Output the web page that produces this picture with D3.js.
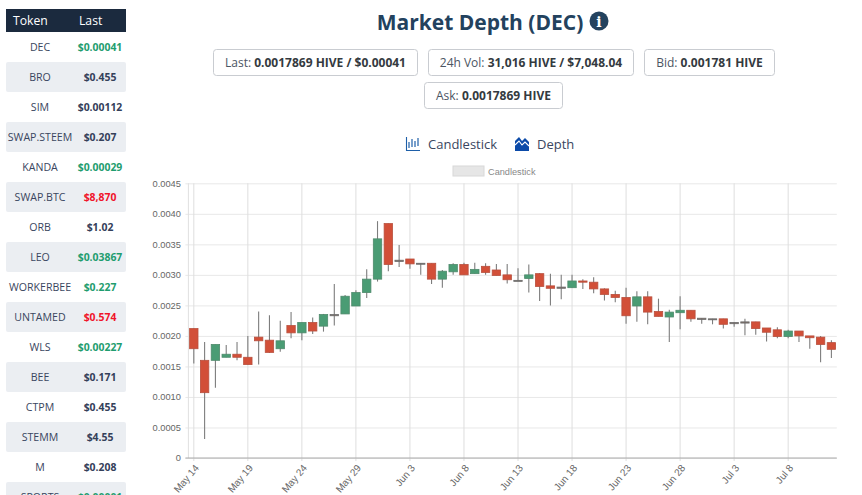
<!DOCTYPE html>
<html><head><meta charset="utf-8">
<script src="https://cdn.jsdelivr.net/npm/d3@7/dist/d3.min.js"></script>
<style>
html,body{margin:0;padding:0;background:#fff;overflow:hidden;width:862px;height:495px}
svg{display:block}
</style></head><body>
<svg id="c" width="862" height="495"></svg>
<script>
const tokens=["DEC","BRO","SIM","SWAP.STEEM","KANDA","SWAP.BTC","ORB","LEO","WORKERBEE","UNTAMED","WLS","BEE","CTPM","STEMM","M","SPORTS"];
const lasts=["$0.00041","$0.455","$0.00112","$0.207","$0.00029","$8,870","$1.02","$0.03867","$0.227","$0.574","$0.00227","$0.171","$0.455","$4.55","$0.208","$0.00001"];
const lastTrend=["up","flat","flat","flat","up","down","flat","up","up","down","up","flat","flat","flat","flat","up"];
const monthDays=[["May",14,31],["Jun",1,30],["Jul",1,12]];
const tickEvery=5;
const bodyTop=[.00212,.0016,.00186,.0017,.0017,.00165,.00198,.00193,.00192,.00217,.00222,.00222,.00235,.00235,.00265,.00271,.00293,.00359,.00384,.00324,
.00326,.00319,.00319,.00306,.00317,.00317,.00309,.00314,.00308,.003,.00291,.003,.00302,.00282,.0028,.0029,.0029,.00288,.00277,.00268,
.00263,.00264,.00264,.0024,.00239,.00242,.00242,.00229,.00228,.00228,.00222,.00223,.00223,.00213,.0021,.00208,.00208,.002,.00198,.00189];
const bodyBottom=[.00179,.00107,.0016,.00165,.00165,.00153,.00192,.00173,.00179,.00205,.00205,.00208,.00216,.00233,.00236,.00249,.00271,.00293,.00317,.00322,
.00318,.00318,.00293,.00293,.00305,.003,.00302,.00304,.00299,.00292,.0029,.00294,.00281,.00278,.00278,.00279,.00288,.00277,.00268,.00263,
.00233,.00249,.00239,.00232,.00231,.00238,.00228,.00227,.00227,.00219,.0022,.00221,.00212,.00206,.00199,.00199,.002,.00197,.00186,.00178];
const highs=[.00212,.0019,.00186,.00185,.0019,.002,.0024,.00234,.00225,.00239,.00222,.0023,.00236,.00285,.00267,.00275,.00309,.00388,.00384,.00349,
.00326,.00319,.00319,.00308,.00319,.0032,.0032,.00319,.00318,.00318,.00311,.00317,.00303,.00302,.003,.003,.00293,.00296,.00278,.00274,
.00279,.00273,.00273,.00261,.00243,.00265,.00242,.00229,.00228,.00228,.00222,.00228,.00223,.00213,.00214,.0021,.00208,.002,.002,.00193];
const lows=[.00155,.00031,.00115,.00165,.0016,.00153,.00153,.00172,.00174,.00196,.00193,.00203,.00207,.00217,.00236,.00249,.00262,.00289,.00306,.00313,
.0031,.003,.00285,.00279,.003,.003,.00302,.003,.00299,.00286,.0029,.00271,.00257,.0025,.0026,.00279,.00277,.0027,.00258,.00255,
.0022,.00223,.00219,.00232,.0019,.00211,.00223,.0022,.00219,.00212,.00215,.00201,.00202,.00191,.00196,.00196,.0019,.00179,.00157,.00164];
const isUp=[0,0,1,1,0,0,0,0,1,0,1,0,1,2,1,1,1,1,0,2,
0,2,0,1,1,0,1,0,0,0,2,1,0,0,2,1,0,0,0,0,
0,1,0,0,1,1,0,2,2,0,2,2,0,0,0,1,0,0,0,0];
const yTicks=[0,.0005,.001,.0015,.002,.0025,.003,.0035,.004,.0045];
const chips=[["Last: ","0.0017869 HIVE / $0.00041"],["24h Vol: ","31,016 HIVE / $7,048.04"],["Bid: ","0.001781 HIVE"],["Ask: ","0.0017869 HIVE"]];

const days=monthDays.flatMap(([m,a,b])=>d3.range(a,b+1).map(d=>m+" "+d));
const FONT="'Open Sans',sans-serif";
const svg=d3.select("#c");

// ---- sidebar
const side=svg.append("g");
side.append("rect").attr("x",6).attr("y",9).attr("width",120).attr("height",23).attr("fill","#1b2a3e");
side.append("text").attr("x",13).attr("y",25).attr("fill","#fff").attr("font-family",FONT).attr("font-size",12.2).text("Token");
side.append("text").attr("x",79).attr("y",25).attr("fill","#fff").attr("font-family",FONT).attr("font-size",12.2).text("Last");
const trendCol={up:"#1f9d6f",down:"#f0142a",flat:"#34405a"};
tokens.forEach((t,i)=>{
  const y=32+30*i;
  if(i%2) side.append("rect").attr("x",6).attr("y",y).attr("width",120).attr("height",30).attr("rx",2).attr("fill","#ebeef2");
  side.append("text").attr("x",40).attr("y",y+19).attr("text-anchor","middle").attr("fill","#3a4660").attr("font-family",FONT).attr("font-size",10.6).text(t);
  side.append("text").attr("x",100).attr("y",y+19).attr("text-anchor","middle").attr("fill",trendCol[lastTrend[i]]).attr("font-family",FONT).attr("font-weight",700).attr("font-size",10.4).text(lasts[i]);
});

// ---- header
svg.append("text").attr("x",480).attr("y",29.5).attr("text-anchor","middle").attr("fill","#23425e").attr("font-family",FONT).attr("font-weight",700).attr("font-size",21).text("Market Depth (DEC)");
svg.append("circle").attr("cx",599).attr("cy",21).attr("r",9.5).attr("fill","#23425e");
svg.append("text").attr("x",599).attr("y",26.5).attr("text-anchor","middle").attr("fill","#fff").attr("font-family","'DejaVu Serif',serif").attr("font-weight",700).attr("font-size",14).text("i");

const chipBoxes=[[213,49,205,26],[428,49,206,26],[644,49,131,26],[424,82,139,26]];
chips.forEach((c,i)=>{
  const [x,y,w,h]=chipBoxes[i];
  svg.append("rect").attr("x",x+.5).attr("y",y+.5).attr("width",w-1).attr("height",h).attr("rx",3).attr("fill","#fff").attr("stroke","#c9ccd1");
  const t=svg.append("text").attr("x",x+w/2).attr("y",y+18).attr("text-anchor","middle").attr("font-family",FONT).attr("font-size",12);
  t.append("tspan").attr("fill","#4b5563").text(c[0]);
  t.append("tspan").attr("fill","#343a40").attr("font-weight",700).text(c[1]);
});

// ---- tab icons
const ic=svg.append("g");
ic.append("path").attr("d","M406.5 137V150.5H420").attr("fill","none").attr("stroke","#1e5fa8").attr("stroke-width",1.1);
[[409,142,148],[412,139,147],[415,141,147],[418,138,146]].forEach(a=>ic.append("line").attr("x1",a[0]).attr("x2",a[0]).attr("y1",a[1]).attr("y2",a[2]).attr("stroke","#1e5fa8").attr("stroke-width",1.2));
svg.append("text").attr("x",428).attr("y",149).attr("fill","#3a4660").attr("font-family",FONT).attr("font-size",13).text("Candlestick");
ic.append("path").attr("d","M515 151V141L519 137L522 141L525 138L529 142V151Z").attr("fill","#0b4aa8");
ic.append("path").attr("d","M515 145L519 141L522 145L525 142L529 146").attr("fill","none").attr("stroke","#fff").attr("stroke-width",1.1);
svg.append("text").attr("x",537).attr("y",149).attr("fill","#3a4660").attr("font-family",FONT).attr("font-size",13).text("Depth");

// ---- chart
const x=d3.scaleBand().domain(days).range([188.4,836.8]);
const y=d3.scaleLinear().domain([0,.0045]).range([458,183.3]);
const chart=svg.append("g");

chart.append("g").attr("transform","translate(188.4,0)")
  .call(d3.axisLeft(y).tickValues(yTicks).tickSize(-648.4).tickFormat(d=>d===0?"0":d3.format(".4f")(d)))
  .call(g=>{g.select(".domain").remove();
    g.selectAll(".tick line").attr("stroke","#e8e8e8").attr("x1",-3);
    g.selectAll("text").attr("x",-7.5).attr("fill","#666").attr("font-family","'Liberation Sans',Arial,sans-serif").attr("font-size",9.3);});

const tickDays=days.filter((d,i)=>i%tickEvery===0);
chart.append("g").attr("transform","translate(0,458)")
  .call(d3.axisBottom(x).tickValues(tickDays).tickSize(-274.7).tickSizeOuter(0))
  .call(g=>{g.select(".domain").remove();
    g.selectAll(".tick line").attr("stroke","#dedede").attr("y1",3);
    g.selectAll("text").attr("fill","#666").attr("font-family","'Liberation Sans',Arial,sans-serif").attr("font-size",10)
      .attr("text-anchor","end").attr("transform","translate(3,8) rotate(-50)").attr("dy","0.35em").attr("y",0).attr("x",0);});
chart.append("line").attr("x1",188.4).attr("x2",188.4).attr("y1",183.3).attr("y2",458).attr("stroke","#e0e0e0");
chart.append("line").attr("x1",185.4).attr("x2",836.8).attr("y1",y(0)).attr("y2",y(0)).attr("stroke","#aaa").attr("stroke-width",1.2);

const colBody=["#d24f38","#4a9c74","#7c6a60"];
const colEdge=["#b8503e","#4f8a6c","#6d6d6d"];
const W=8.4;
const cx=d=>x(d)+x.bandwidth()/2;
const cand=chart.append("g").selectAll("g").data(days).join("g");
cand.append("line").attr("x1",cx).attr("x2",cx)
  .attr("y1",(d,i)=>y(highs[i])).attr("y2",(d,i)=>y(lows[i]))
  .attr("stroke","#7d7d7d").attr("stroke-width",1.1);
cand.append("rect").attr("x",d=>cx(d)-W/2).attr("width",W)
  .attr("y",(d,i)=>y(bodyTop[i]))
  .attr("height",(d,i)=>Math.max(1,y(bodyBottom[i])-y(bodyTop[i])))
  .attr("fill",(d,i)=>colBody[isUp[i]]).attr("stroke",(d,i)=>colEdge[isUp[i]]).attr("stroke-width",.8);

// ---- chart legend
svg.append("rect").attr("x",453).attr("y",166).attr("width",31).attr("height",10).attr("fill","#e6e6e6").attr("stroke","#d8d8d8");
svg.append("text").attr("x",488).attr("y",174.5).attr("fill","#888").attr("font-family","'Liberation Sans',Arial,sans-serif").attr("font-size",9.2).text("Candlestick");
</script>
</body></html>
